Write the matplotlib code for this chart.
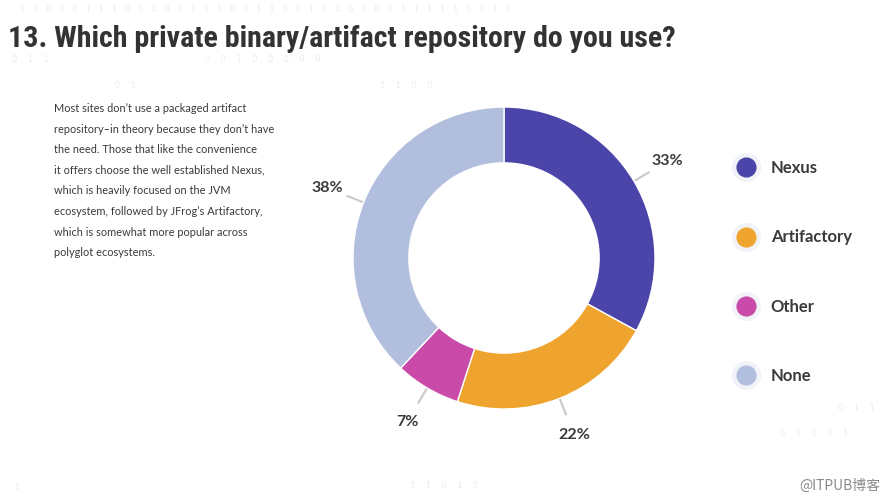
import numpy as np
import matplotlib
matplotlib.use("Agg")
import matplotlib.pyplot as plt
from matplotlib import font_manager
from matplotlib.lines import Line2D
from matplotlib.legend_handler import HandlerTuple

# Survey data
labels = ["Nexus", "Artifactory", "Other", "None"]
shares = [33, 22, 7, 38]
colors = ["#4b44a9", "#eea42e", "#c94aa9", "#b2bedd"]

title = "13. Which private binary/artifact repository do you use?"
body = [
    "Most sites don\u2019t use a packaged artifact",
    "repository\u2013in theory because they don\u2019t have",
    "the need. Those that like the convenience",
    "it offers choose the well established Nexus,",
    "which is heavily focused on the JVM",
    "ecosystem, followed by JFrog\u2019s Artifactory,",
    "which is somewhat more popular across",
    "polyglot ecosystems.",
]

W, H = 890, 497
fig = plt.figure(figsize=(W / 100, H / 100), dpi=100)
fig.patch.set_facecolor("white")

# pick a narrow face for the title if one is installed
installed = {f.name for f in font_manager.fontManager.ttflist}
title_font = "Lato"
for cand in ["Roboto Condensed", "Liberation Sans Narrow", "Open Sans Condensed",
             "Noto Sans Condensed", "Fira Sans Condensed"]:
    if cand in installed:
        title_font = cand
        break

# faint binary decoration in the background
bg = "#ececec"
fig.text(20 / W, 1 - 10 / H, "   ".join("11000111000001110011001000000111110010"),
         fontsize=6, color=bg, va="center", family="DejaVu Sans")
fig.text(12 / W, 1 - 59 / H, "0    1    1", fontsize=6, color=bg, va="center")
fig.text(205 / W, 1 - 59 / H, "0    0    1    0    0    0    0    0", fontsize=6, color=bg, va="center")
fig.text(115 / W, 1 - 86 / H, "0    1", fontsize=6, color=bg, va="center")
fig.text(380 / W, 1 - 86 / H, "1    1    0    0", fontsize=6, color=bg, va="center")
fig.text(838 / W, 1 - 408 / H, "0    1    1", fontsize=6, color=bg, va="center")
fig.text(780 / W, 1 - 433 / H, "0    1    1    0    1", fontsize=6, color=bg, va="center")
fig.text(410 / W, 1 - 486 / H, "1    1    0    1    0", fontsize=6, color=bg, va="center")
fig.text(14 / W, 1 - 488 / H, "1", fontsize=6, color=bg, va="center")

# title, sized to span the same width as the original
tt = fig.text(8 / W, 1 - 47 / H, title, fontsize=20, fontweight="bold", color="#333333",
              family=title_font, va="baseline")
fig.canvas.draw()
bw = tt.get_window_extent(fig.canvas.get_renderer()).width
tt.set_fontsize(20 * 666 / bw)

# description text
for i, line in enumerate(body):
    fig.text(54 / W, 1 - (112 + i * 20.6) / H, line, fontsize=7.9, color="#3a3a3a",
             family="Lato", va="baseline")

# donut
R = 151
L = 1.4
S = 2 * L * R
cx, cy = 504, 258
ax = fig.add_axes([(cx - S / 2) / W, (H - cy - S / 2) / H, S / W, S / H])
wedges, _ = ax.pie(shares, colors=colors, startangle=90, counterclock=False,
                   radius=1, wedgeprops=dict(width=0.37, edgecolor="white", linewidth=1))
ax.set_xlim(-L, L)
ax.set_ylim(-L, L)
ax.set_aspect("equal")
ax.axis("off")

for w, v in zip(wedges, shares):
    a = np.deg2rad((w.theta1 + w.theta2) / 2)
    ca, sa = np.cos(a), np.sin(a)
    ax.plot([1.005 * ca, 1.12 * ca], [1.005 * sa, 1.12 * sa], color="#c9c9c9", lw=1.5,
            solid_capstyle="butt")
    ax.text(1.26 * ca, 1.26 * sa, f"{v}%", ha="center", va="center", fontsize=11.5,
            fontweight="bold", color="#3a3a3a", family="Lato")

# legend with soft halo behind each dot
handles = [
    (Line2D([], [], ls="none", marker="o", markersize=20, color="#f1f3f9"),
     Line2D([], [], ls="none", marker="o", markersize=13.5, color=c))
    for c in colors
]
leg = fig.legend(handles, labels, handler_map={tuple: HandlerTuple(ndivide=1)},
                 loc="upper left", bbox_to_anchor=(729 / W, 1 - 160 / H),
                 frameon=False, labelspacing=3.2, handlelength=2,
                 handletextpad=0.5, borderpad=0, borderaxespad=0,
                 prop=dict(family="Lato", weight="bold", size=12))
for t in leg.get_texts():
    t.set_color("#3a3a3a")

# watermark
fig.text(880 / W, 1 - 486 / H, "@ITPUB\u535a\u5ba2", fontsize=10, color="#8a8a8a",
         ha="right", va="center", family=["Noto Sans CJK SC", "DejaVu Sans"])

fig.savefig("out.png", dpi=100, facecolor="white")
